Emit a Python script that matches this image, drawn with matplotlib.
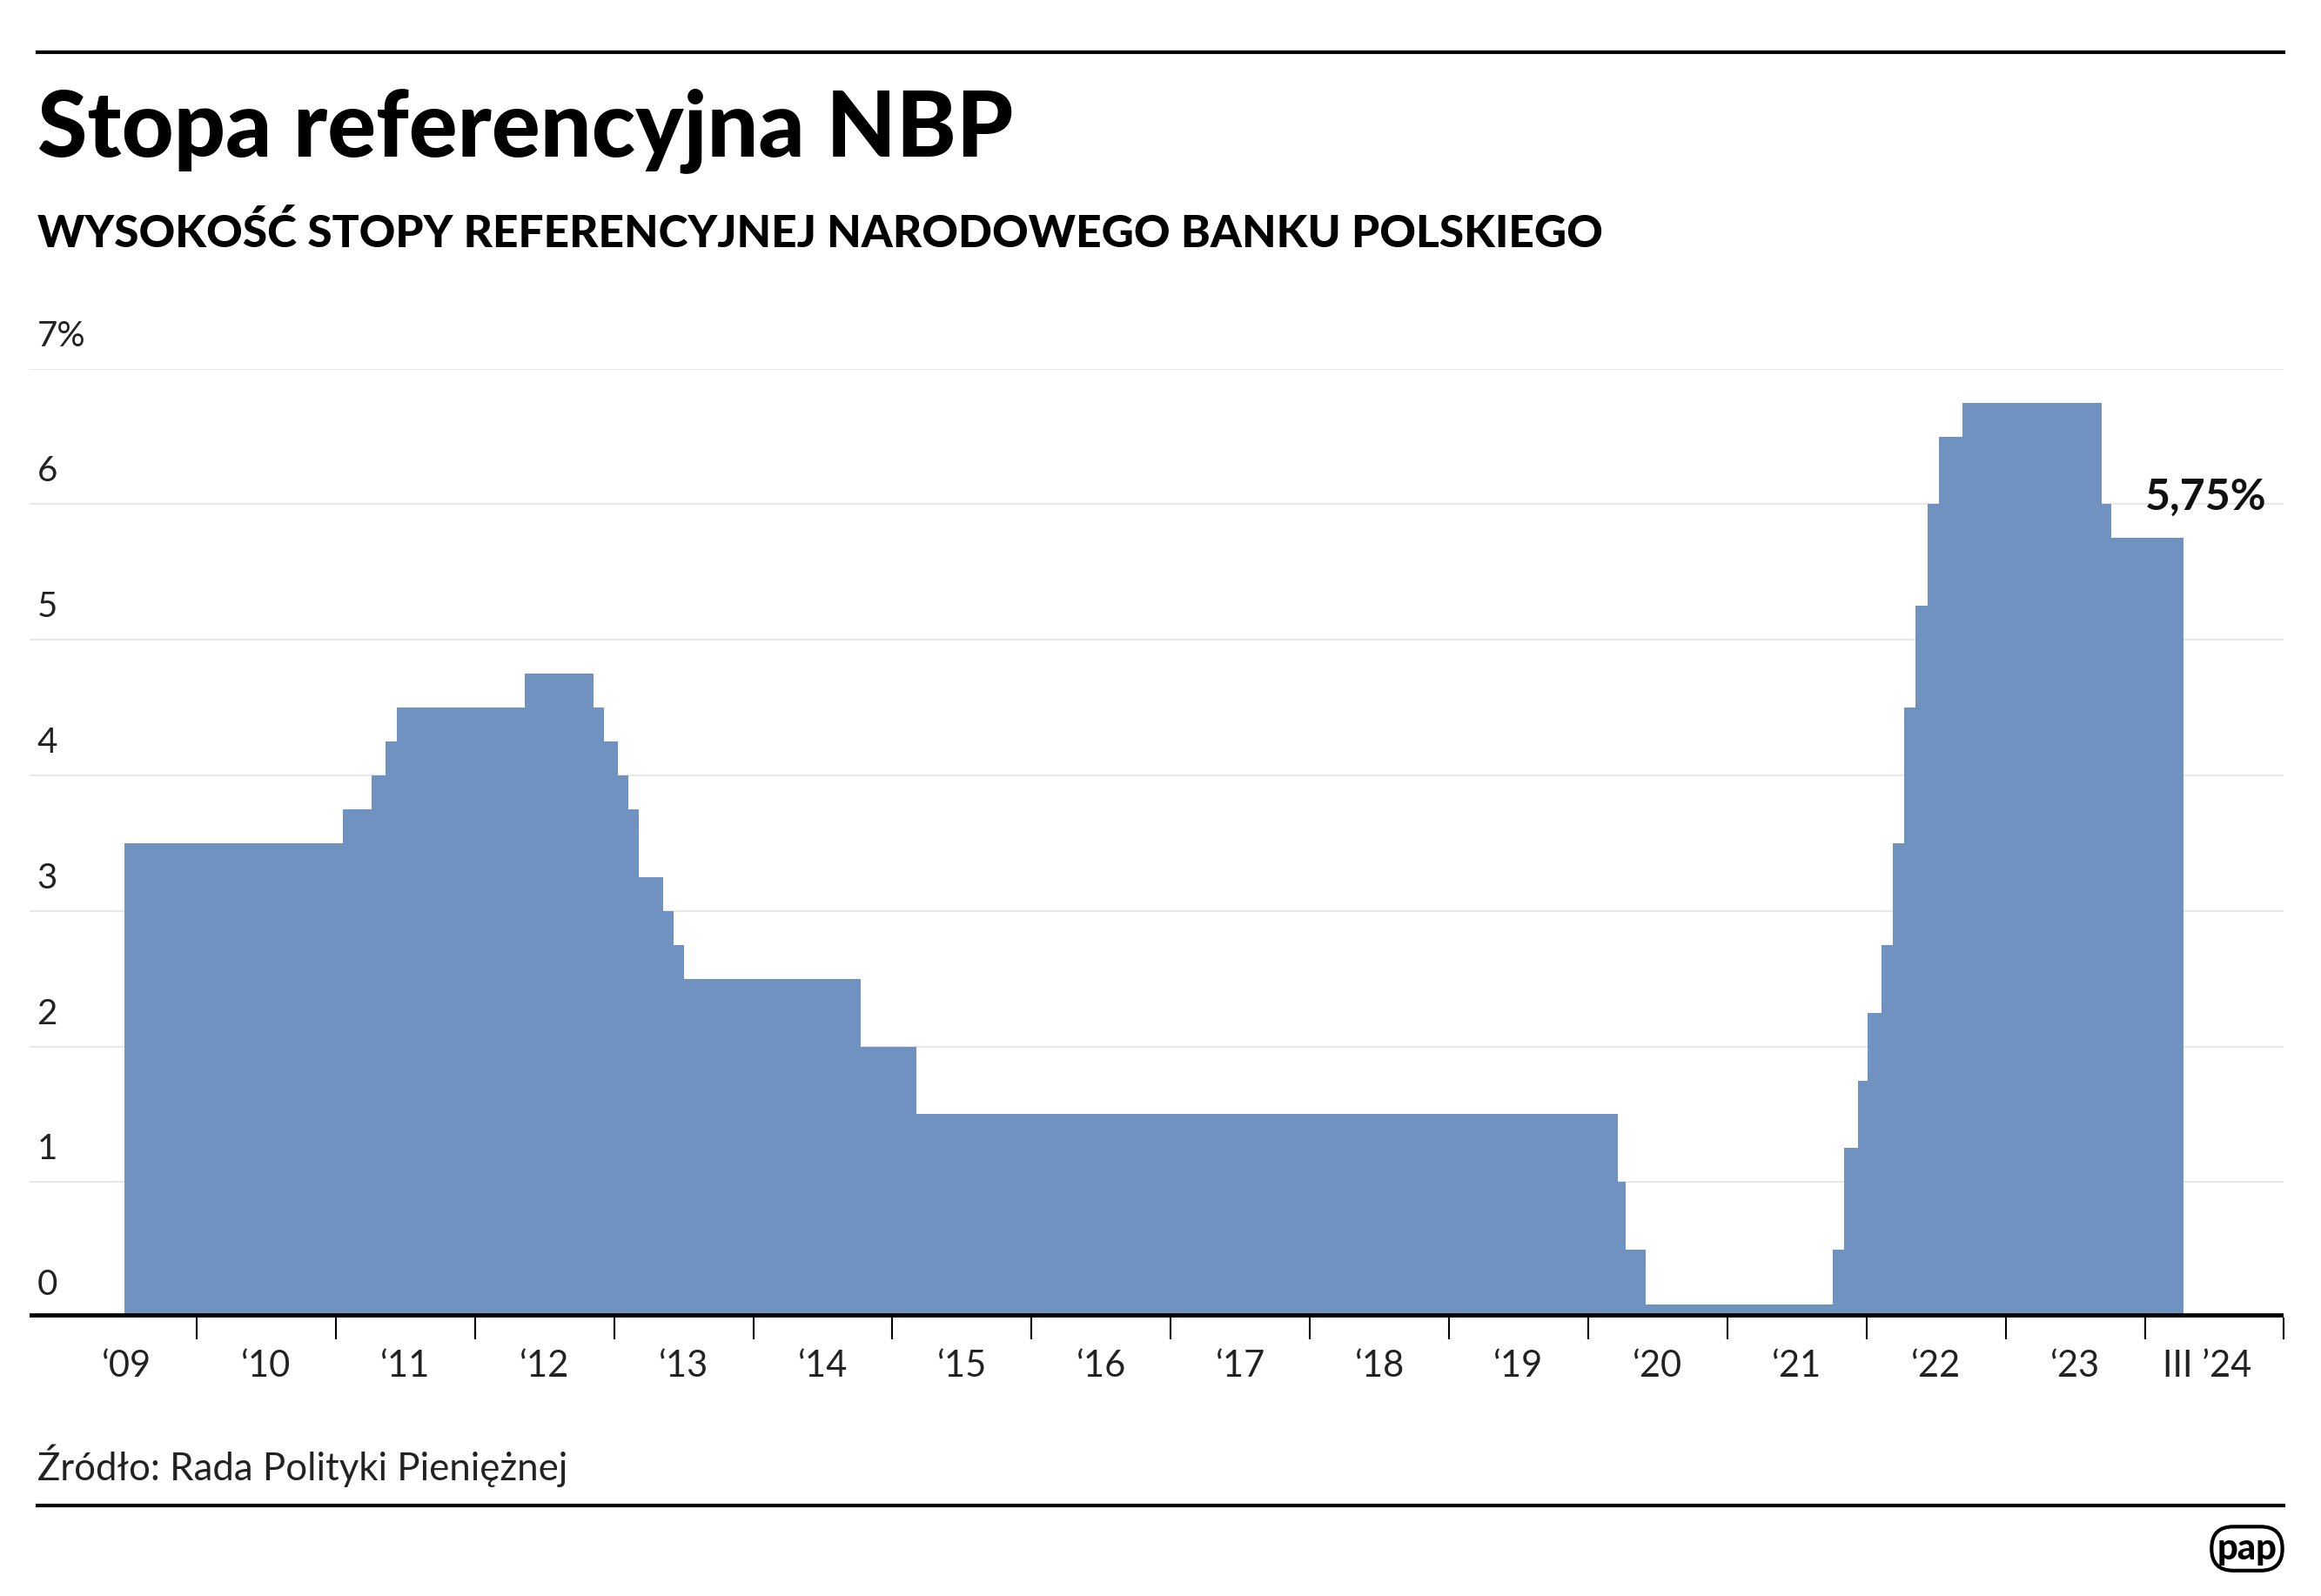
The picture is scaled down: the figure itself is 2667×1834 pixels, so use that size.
import matplotlib
matplotlib.use("Agg")
import matplotlib.pyplot as plt
from matplotlib.lines import Line2D

dates = [2009.48, 2011.05, 2011.26, 2011.36, 2011.44, 2012.36, 2012.85, 2012.93, 2013.03,
         2013.10, 2013.18, 2013.35, 2013.43, 2013.50, 2014.77, 2015.17, 2020.21, 2020.27,
         2020.41, 2021.76, 2021.84, 2021.94, 2022.01, 2022.11, 2022.19, 2022.27, 2022.35,
         2022.44, 2022.52, 2022.69, 2023.69, 2023.76, 2024.28]
rates = [3.50, 3.75, 4.00, 4.25, 4.50, 4.75, 4.50, 4.25, 4.00, 3.75, 3.25, 3.00, 2.75, 2.50,
         2.00, 1.50, 1.00, 0.50, 0.10, 0.50, 1.25, 1.75, 2.25, 2.75, 3.50, 4.50, 5.25, 6.00,
         6.50, 6.75, 6.00, 5.75, 5.75]
year_labels = ["\u201809", "\u201810", "\u201811", "\u201812", "\u201813", "\u201814", "\u201815",
               "\u201816", "\u201817", "\u201818", "\u201819", "\u201820", "\u201821", "\u201822",
               "\u201823", "III \u201924"]
y_labels = ["0", "1", "2", "3", "4", "5", "6", "7%"]

FONT = "Lato"
W, H = 1568, 1078
fig = plt.figure(figsize=(26.67, 18.34), dpi=100)

x0, x1 = 2008.8, 2025.0
ax = fig.add_axes([20 / W, 1 - 890 / H, (1543 - 20) / W, (890 - 249) / H])
ax.set_xlim(x0, x1)
ax.set_ylim(0, 7)
ax.fill_between(dates, rates, [0] * len(rates), step="post",
                color="#7092c0", linewidth=0, zorder=2)
for v in range(1, 8):
    ax.axhline(v, color="#e4e4e4", lw=1.2, zorder=1)
for v, lab in enumerate(y_labels):
    fig.text(25 / W, 1 - (890 - v * 91.57 - 22) / H, lab, fontsize=29, family=FONT,
             color="#222", ha="left", va="center")
ax.axhline(0, color="black", lw=7, zorder=3)
for sp in ax.spines.values():
    sp.set_visible(False)
ax.set_yticks([])
ax.set_xticks(list(range(2010, 2026)))
ax.tick_params(axis="x", length=18, width=1.5, color="black", labelbottom=False)
for i, lab in enumerate(year_labels):
    xc = 2009.5 + i if i < 15 else 2024.45
    ax.text(xc, -0.36, lab, ha="center", va="center", fontsize=30, family=FONT, color="#222")
ax.text(2024.0, 5.75 + 0.3, "5,75%", ha="left", va="center", fontsize=36, weight="bold",
        family=FONT, color="#111")

fig.add_artist(Line2D([25 / W, 1543 / W], [1 - 35 / H] * 2, color="black", lw=3))
fig.add_artist(Line2D([25 / W, 1543 / W], [1 - 1017 / H] * 2, color="black", lw=3))
fig.text(25 / W, 1 - 88 / H, "Stopa referencyjna NBP", fontsize=75, weight="black",
         family=FONT, va="center", ha="left")
fig.text(25 / W, 1 - 158 / H, "WYSOKOŚĆ STOPY REFERENCYJNEJ NARODOWEGO BANKU POLSKIEGO",
         fontsize=37, weight="black", family=FONT, va="center", ha="left")
fig.text(25 / W, 1 - 990 / H, "Źródło: Rada Polityki Pieniężnej", fontsize=31.5,
         family=FONT, va="center", ha="left", color="#222")
fig.text(1518 / W, 1 - 1046 / H, "pap", fontsize=30, weight="black", family=FONT,
         va="center", ha="center",
         bbox=dict(boxstyle="round,pad=0.15,rounding_size=0.6", fc="white", ec="black", lw=3))
fig.savefig("out.png", dpi=100)
